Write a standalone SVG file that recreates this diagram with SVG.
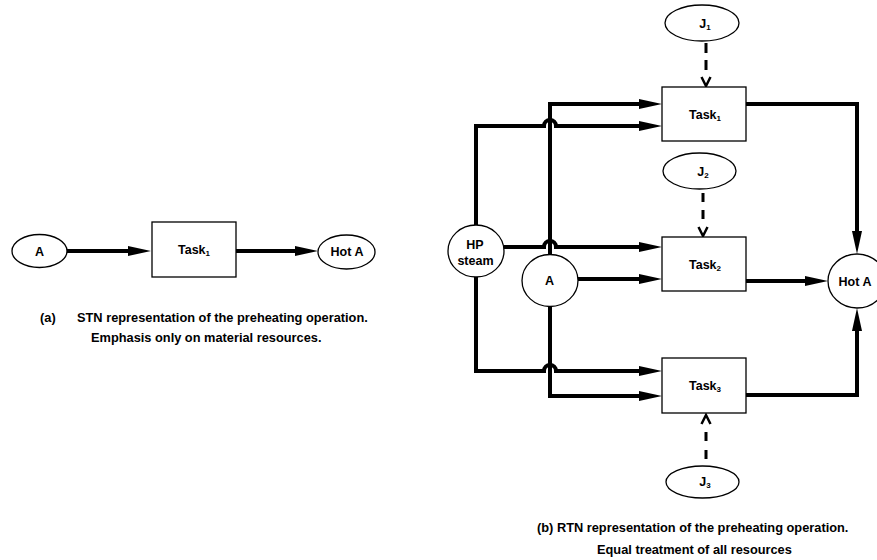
<svg xmlns="http://www.w3.org/2000/svg" width="877" height="560" viewBox="0 0 877 560">
  <style>
    .node { fill: #fff; stroke: #000; stroke-width: 1.3; }
    .lbl { font-family: "Liberation Sans", Arial, sans-serif; font-weight: bold; font-size: 12.5px; fill: #000; text-anchor: middle; }
    .sub { font-size: 8px; }
    .cap { font-family: "Liberation Sans", Arial, sans-serif; font-weight: bold; font-size: 12.8px; fill: #000; }
    .flow { fill: none; stroke: #000; stroke-width: 4; stroke-linejoin: miter; marker-end: url(#head); }
    .dash { fill: none; stroke: #000; stroke-width: 3; }
    .chev { fill: none; stroke: #000; stroke-width: 2.5; stroke-linejoin: miter; }
  </style>
  <defs>
    <marker id="head" markerUnits="userSpaceOnUse" markerWidth="24" markerHeight="10" viewBox="0 0 24 10" refX="1" refY="5" orient="auto">
      <path d="M0,0 L23,5 L0,10 z" fill="#000"/>
    </marker>
  </defs>

  <rect width="877" height="560" fill="#fff"/>

  <!-- (a) STN -->
  <g id="stn-connectors">
    <path class="flow" d="M67,251 H129"/>
    <path class="flow" d="M236,251 H296"/>
  </g>
  <g id="stn-A">
    <ellipse class="node" cx="39.5" cy="251" rx="27.5" ry="16.5"/>
    <text class="lbl" x="39.5" y="255.5">A</text>
  </g>
  <g id="stn-task1">
    <rect class="node" x="152" y="222" width="84" height="55"/>
    <text class="lbl" x="194" y="254">Task<tspan class="sub" dy="2">1</tspan></text>
  </g>
  <g id="stn-hotA">
    <ellipse class="node" cx="346.5" cy="252" rx="28.5" ry="17"/>
    <text class="lbl" x="347" y="256">Hot A</text>
  </g>
  <g id="stn-caption">
    <text class="cap" x="40" y="322">(a)</text>
    <text class="cap" x="77" y="322">STN representation of the preheating operation.</text>
    <text class="cap" x="91" y="342">Emphasis only on material resources.</text>
  </g>

  <!-- (b) RTN -->
  <g id="rtn-connectors">
    <!-- A to Task1 (top input) -->
    <path class="flow" d="M550,254 V104 H640"/>
    <!-- HP steam to Task1, hopping over the A line -->
    <path class="flow" d="M476,225 V126 H544 A6,6 0 0 1 556,126 H640"/>
    <!-- HP steam to Task2 -->
    <path class="flow" d="M504,247 H544 A6,6 0 0 1 556,247 H640"/>
    <!-- A to Task2 -->
    <path class="flow" d="M578,279 H640"/>
    <!-- HP steam to Task3 -->
    <path class="flow" d="M476,277 V371 H544 A6,6 0 0 1 556,371 H640"/>
    <!-- A to Task3 -->
    <path class="flow" d="M550,306 V396 H640"/>
    <!-- Task outputs to Hot A -->
    <path class="flow" d="M746,104 H857 V232"/>
    <path class="flow" d="M746,281 H806"/>
    <path class="flow" d="M746,395 H857 V330"/>
    <!-- equipment links -->
    <path class="dash" d="M706,43 V70" stroke-dasharray="10 7"/>
    <polyline class="chev" points="701.5,77 706,86 710.5,77"/>
    <path class="dash" d="M703,193 V220" stroke-dasharray="9 8"/>
    <polyline class="chev" points="698.5,227 703,236 707.5,227"/>
    <path class="dash" d="M706,459 V432" stroke-dasharray="9 9"/>
    <polyline class="chev" points="701.5,424 706,415 710.5,424"/>
  </g>

  <g id="rtn-J1">
    <ellipse class="node" cx="702" cy="23" rx="37" ry="18"/>
    <text class="lbl" x="705" y="27.5">J<tspan class="sub" dy="2">1</tspan></text>
  </g>
  <g id="rtn-task1">
    <rect class="node" x="662" y="87" width="84" height="54"/>
    <text class="lbl" x="705" y="118.5">Task<tspan class="sub" dy="2">1</tspan></text>
  </g>
  <g id="rtn-J2">
    <ellipse class="node" cx="699.5" cy="171" rx="36.5" ry="18"/>
    <text class="lbl" x="703" y="175.5">J<tspan class="sub" dy="2">2</tspan></text>
  </g>
  <g id="rtn-task2">
    <rect class="node" x="662" y="237" width="84" height="54"/>
    <text class="lbl" x="705" y="268.5">Task<tspan class="sub" dy="2">2</tspan></text>
  </g>
  <g id="rtn-task3">
    <rect class="node" x="662" y="358" width="84" height="55"/>
    <text class="lbl" x="705" y="390">Task<tspan class="sub" dy="2">3</tspan></text>
  </g>
  <g id="rtn-J3">
    <ellipse class="node" cx="702.5" cy="482" rx="36.5" ry="16"/>
    <text class="lbl" x="705" y="486">J<tspan class="sub" dy="2">3</tspan></text>
  </g>
  <g id="rtn-hpsteam">
    <ellipse class="node" cx="476" cy="251" rx="28" ry="26"/>
    <text class="lbl" x="475" y="248.5">HP</text>
    <text class="lbl" x="475.5" y="264.5">steam</text>
  </g>
  <g id="rtn-A">
    <ellipse class="node" cx="550" cy="280.5" rx="28" ry="26"/>
    <text class="lbl" x="549.5" y="284.5">A</text>
  </g>
  <g id="rtn-hotA">
    <ellipse class="node" cx="857" cy="281" rx="29" ry="27"/>
    <text class="lbl" x="855" y="285.5">Hot A</text>
  </g>
  <g id="rtn-caption">
    <text class="cap" x="537" y="532">(b) RTN representation of the preheating operation.</text>
    <text class="cap" x="597" y="554">Equal treatment of all resources</text>
  </g>
</svg>
